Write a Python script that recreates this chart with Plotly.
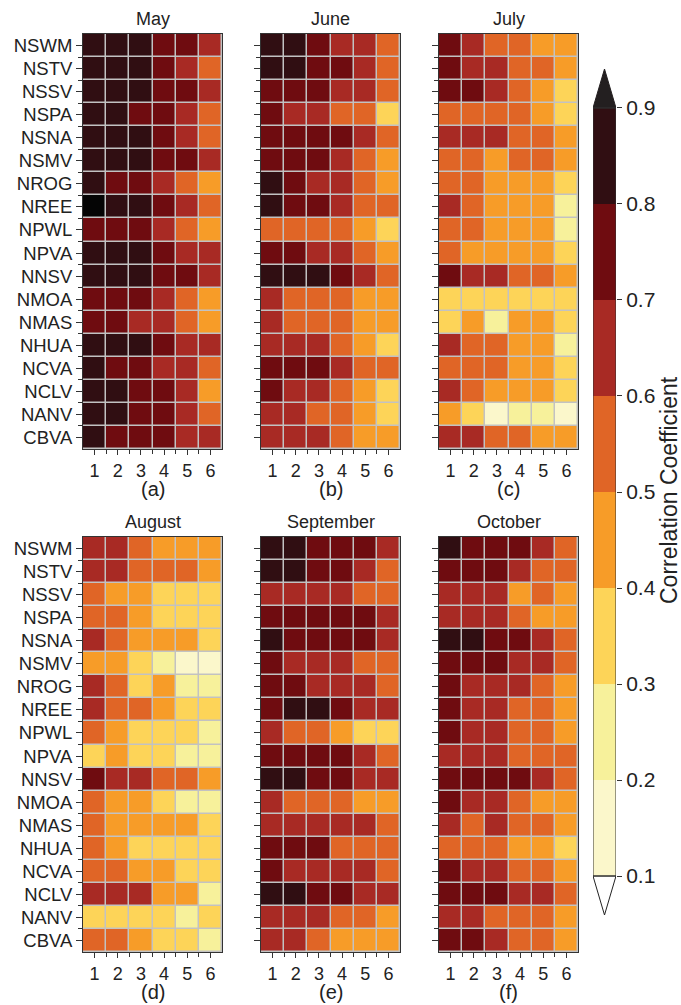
import plotly.graph_objects as go

W, H = 681, 1005

stations = ["NSWM", "NSTV", "NSSV", "NSPA", "NSNA", "NSMV", "NROG", "NREE", "NPWL",
            "NPVA", "NNSV", "NMOA", "NMAS", "NHUA", "NCVA", "NCLV", "NANV", "CBVA"]
leads = [1, 2, 3, 4, 5, 6]
months = ["May", "June", "July", "August", "September", "October"]
panel_tags = ["(a)", "(b)", "(c)", "(d)", "(e)", "(f)"]

may = [
    [.85, .85, .85, .75, .75, .65],
    [.85, .85, .85, .75, .65, .55],
    [.85, .85, .85, .75, .75, .65],
    [.85, .85, .75, .75, .65, .55],
    [.85, .85, .85, .75, .65, .55],
    [.85, .85, .85, .75, .75, .65],
    [.85, .75, .75, .65, .55, .45],
    [.95, .85, .85, .75, .65, .55],
    [.75, .75, .75, .65, .55, .45],
    [.85, .85, .85, .75, .65, .65],
    [.85, .85, .85, .75, .75, .65],
    [.75, .75, .75, .65, .55, .45],
    [.75, .75, .65, .65, .55, .45],
    [.85, .85, .85, .75, .65, .65],
    [.85, .75, .75, .65, .65, .55],
    [.85, .85, .75, .75, .65, .45],
    [.85, .85, .75, .75, .65, .55],
    [.85, .75, .75, .75, .65, .65],
]
june = [
    [.85, .85, .75, .65, .65, .55],
    [.85, .85, .75, .75, .65, .55],
    [.75, .75, .75, .65, .65, .55],
    [.75, .65, .65, .55, .55, .35],
    [.75, .75, .75, .75, .65, .55],
    [.75, .75, .75, .65, .55, .45],
    [.85, .75, .65, .65, .55, .45],
    [.85, .75, .75, .65, .55, .55],
    [.55, .55, .55, .55, .45, .35],
    [.75, .75, .65, .65, .55, .45],
    [.85, .85, .85, .75, .65, .55],
    [.65, .55, .55, .55, .45, .45],
    [.65, .55, .55, .55, .45, .45],
    [.65, .65, .65, .55, .45, .35],
    [.75, .75, .75, .65, .55, .55],
    [.75, .65, .65, .55, .45, .35],
    [.65, .65, .55, .55, .45, .35],
    [.65, .65, .65, .55, .45, .45],
]
july = [
    [.75, .65, .55, .55, .45, .45],
    [.75, .65, .65, .55, .55, .45],
    [.75, .75, .65, .55, .45, .35],
    [.55, .55, .55, .55, .45, .35],
    [.65, .65, .65, .55, .55, .45],
    [.55, .55, .45, .55, .55, .45],
    [.55, .55, .45, .45, .45, .35],
    [.65, .55, .45, .45, .45, .25],
    [.55, .55, .45, .45, .45, .25],
    [.55, .45, .45, .45, .45, .35],
    [.75, .65, .65, .55, .55, .45],
    [.35, .35, .35, .35, .35, .35],
    [.35, .45, .25, .45, .45, .35],
    [.65, .55, .55, .45, .45, .25],
    [.55, .55, .55, .45, .45, .35],
    [.65, .55, .45, .45, .45, .35],
    [.45, .35, .15, .25, .25, .15],
    [.65, .65, .55, .55, .45, .45],
]
august = [
    [.65, .65, .55, .45, .45, .45],
    [.65, .65, .55, .55, .55, .45],
    [.55, .45, .45, .35, .35, .35],
    [.55, .55, .45, .35, .35, .35],
    [.65, .55, .45, .45, .45, .35],
    [.45, .45, .35, .25, .15, .15],
    [.65, .55, .35, .45, .25, .25],
    [.65, .55, .55, .45, .35, .35],
    [.55, .45, .35, .35, .35, .25],
    [.35, .45, .35, .35, .25, .25],
    [.75, .65, .65, .55, .55, .45],
    [.55, .45, .45, .35, .25, .25],
    [.55, .45, .45, .45, .45, .35],
    [.55, .45, .35, .35, .35, .35],
    [.55, .55, .45, .45, .35, .35],
    [.65, .65, .65, .45, .45, .25],
    [.35, .35, .35, .35, .25, .35],
    [.55, .55, .45, .35, .35, .25],
]
september = [
    [.85, .85, .75, .75, .75, .65],
    [.85, .85, .75, .75, .65, .55],
    [.65, .65, .65, .65, .55, .55],
    [.75, .75, .75, .75, .75, .65],
    [.85, .75, .75, .75, .75, .65],
    [.75, .65, .65, .65, .55, .55],
    [.75, .75, .65, .65, .65, .55],
    [.75, .85, .85, .75, .65, .65],
    [.65, .55, .55, .45, .35, .35],
    [.75, .75, .75, .75, .65, .55],
    [.85, .85, .75, .75, .65, .65],
    [.65, .55, .55, .55, .45, .45],
    [.65, .65, .65, .65, .65, .55],
    [.75, .75, .75, .55, .55, .55],
    [.75, .65, .65, .65, .65, .55],
    [.85, .85, .75, .75, .65, .65],
    [.65, .65, .65, .55, .55, .45],
    [.65, .65, .55, .45, .45, .45],
]
october = [
    [.85, .75, .75, .75, .65, .55],
    [.75, .75, .75, .65, .55, .55],
    [.65, .65, .65, .45, .55, .45],
    [.65, .65, .65, .55, .45, .45],
    [.85, .85, .75, .75, .65, .55],
    [.75, .75, .75, .65, .65, .55],
    [.75, .65, .65, .65, .55, .45],
    [.75, .65, .65, .55, .55, .45],
    [.75, .65, .65, .55, .55, .45],
    [.65, .65, .65, .55, .55, .55],
    [.75, .75, .75, .75, .65, .55],
    [.75, .65, .65, .55, .45, .45],
    [.65, .55, .65, .55, .55, .45],
    [.55, .55, .55, .45, .45, .35],
    [.75, .65, .65, .55, .55, .45],
    [.75, .75, .75, .65, .65, .55],
    [.65, .65, .55, .55, .55, .45],
    [.75, .75, .65, .55, .55, .45],
]
month_data = [may, june, july, august, september, october]

# discrete colour levels (bounds 0,0.1,...,1.0)
level_colors = ["#ffffff", "#fbf7cb", "#f7f19b", "#fdd458", "#f79c28",
                "#e06526", "#a82a24", "#6f0c10", "#300e12", "#050505"]
cs = []
for i, c in enumerate(level_colors):
    cs.append([i / 10, c])
    cs.append([(i + 1) / 10, c])

cbar_levels = [0.15, 0.25, 0.35, 0.45, 0.55, 0.65, 0.75, 0.85]
cbar_ticks = [0.1, 0.2, 0.3, 0.4, 0.5, 0.6, 0.7, 0.8, 0.9]

FONT = "Liberation Sans, Arial, sans-serif"
TXT = "#222222"

# panel pixel boxes
col_px = [(83, 222), (261, 400), (439, 578)]
row_px = [(34, 449), (537, 952)]

fig = go.Figure()
ann = []
for k, data in enumerate(month_data):
    r, c = divmod(k, 3)
    ax = "" if k == 0 else str(k + 1)
    x0, x1 = col_px[c]
    y0, y1 = row_px[r]
    fig.add_trace(go.Heatmap(
        z=data, x=leads, y=list(range(len(stations))),
        colorscale=cs, zmin=0, zmax=1, showscale=False,
        xgap=1.5, ygap=1.5,
        xaxis="x" + ax, yaxis="y" + ax,
        hovertemplate="%{z}<extra></extra>",
    ))
    xa = dict(domain=[x0 / W, x1 / W], range=[0.5, 6.5], anchor="y" + ax,
              tickmode="array", tickvals=leads, ticktext=[str(v) for v in leads],
              ticks="outside", ticklen=5, tickwidth=1, tickcolor="#333",
              minor=dict(tickmode="array", tickvals=[1.5, 2.5, 3.5, 4.5, 5.5],
                         ticks="outside", ticklen=4, tickcolor="#333", showgrid=False),
              showline=True, mirror=True, linecolor="#333", linewidth=1,
              showgrid=False, zeroline=False,
              tickfont=dict(family=FONT, size=18, color=TXT))
    ya = dict(domain=[1 - y1 / H, 1 - y0 / H], range=[17.5, -0.5], anchor="x" + ax,
              tickmode="array", tickvals=list(range(len(stations))),
              ticktext=stations if c == 0 else [""] * len(stations),
              ticks="outside", ticklen=6, tickwidth=1, tickcolor="#333",
              minor=dict(tickmode="array", tickvals=[i + 0.5 for i in range(17)],
                         ticks="outside", ticklen=4, tickcolor="#333", showgrid=False),
              showline=True, mirror=True, linecolor="#333", linewidth=1,
              showgrid=False, zeroline=False,
              tickfont=dict(family=FONT, size=18.5, color=TXT))
    fig.layout["xaxis" + ax] = xa
    fig.layout["yaxis" + ax] = ya
    xc = (x0 + x1) / 2 / W
    ann.append(dict(text=months[k], x=xc, y=1 - (y0 - 15) / H, xref="paper", yref="paper",
                    showarrow=False, xanchor="center", yanchor="middle",
                    font=dict(family=FONT, size=18, color=TXT)))
    ann.append(dict(text=panel_tags[k], x=xc, y=1 - (y1 + 40) / H, xref="paper", yref="paper",
                    showarrow=False, xanchor="center", yanchor="middle",
                    font=dict(family=FONT, size=20, color=TXT)))

# colour bar as its own axis
ext = 0.0406
fig.add_trace(go.Heatmap(
    z=[[v] for v in cbar_levels], x=[0], y=cbar_levels,
    colorscale=cs, zmin=0, zmax=1, showscale=False,
    xaxis="x7", yaxis="y7", hoverinfo="skip"))
fig.add_trace(go.Scatter(
    x=[-0.5, 0.5, 0, -0.5], y=[0.9, 0.9, 0.9 + ext, 0.9], mode="lines",
    fill="toself", fillcolor="#231f20", line=dict(color="#231f20", width=1),
    xaxis="x7", yaxis="y7", hoverinfo="skip", showlegend=False, cliponaxis=False))
fig.add_trace(go.Scatter(
    x=[-0.5, 0.5, 0, -0.5], y=[0.1, 0.1, 0.1 - ext, 0.1], mode="lines",
    fill="toself", fillcolor="#ffffff", line=dict(color="#222", width=1),
    xaxis="x7", yaxis="y7", hoverinfo="skip", showlegend=False, cliponaxis=False))
fig.add_trace(go.Scatter(
    x=[-0.5, -0.5, 0.5, 0.5, -0.5], y=[0.9, 0.1, 0.1, 0.9, 0.9], mode="lines",
    line=dict(color="#333", width=1),
    xaxis="x7", yaxis="y7", hoverinfo="skip", showlegend=False, cliponaxis=False))
fig.layout["xaxis7"] = dict(domain=[593 / W, 616 / W], range=[-0.5, 0.5], anchor="y7",
                            visible=False, fixedrange=True)
fig.layout["yaxis7"] = dict(domain=[1 - 915 / H, 1 - 69 / H], range=[0.1 - ext, 0.9 + ext],
                            anchor="x7", side="right", tickmode="array", tickvals=cbar_ticks,
                            ticktext=[f"{t:.1f}" for t in cbar_ticks],
                            ticks="outside", ticklen=5, tickcolor="#333",
                            showline=False, showgrid=False, zeroline=False,
                            tickfont=dict(family=FONT, size=21, color=TXT))
ann.append(dict(text="Correlation Coefficient", x=669 / W, y=1 - 490 / H,
                xref="paper", yref="paper", showarrow=False, textangle=-90,
                xanchor="center", yanchor="middle",
                font=dict(family="Liberation Sans Narrow, Liberation Sans, Arial", size=23, color=TXT)))

# white background behind the colour bar (covers the grey plot background)
shapes = [dict(type="rect", xref="x7 domain", yref="y7 domain", x0=-0.05, x1=1.05, y0=-0.01, y1=1.01,
               fillcolor="white", line=dict(width=0), layer="below")]

fig.update_layout(
    width=W, height=H, margin=dict(l=0, r=0, t=0, b=0),
    paper_bgcolor="white", plot_bgcolor="#c2c2c2",
    annotations=ann, shapes=shapes, showlegend=False,
)
fig.write_html("out.html")
